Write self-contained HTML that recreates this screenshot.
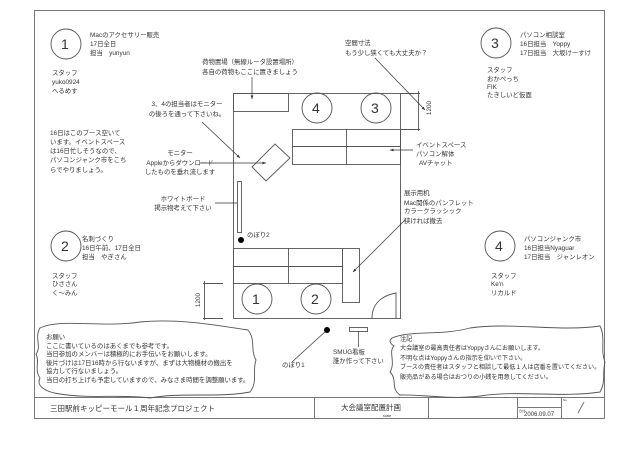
<!DOCTYPE html>
<html><head><meta charset="utf-8"><style>
body{margin:0;background:#fff}
svg text{font-family:"Liberation Sans","Noto Sans CJK JP",sans-serif;font-size:6.4px;fill:#333}
</style></head><body>
<svg width="640" height="447" viewBox="0 0 640 447" xmlns="http://www.w3.org/2000/svg">
<defs><marker id="a" markerWidth="6" markerHeight="6" refX="5" refY="3" orient="auto"><path d="M0,1 L5,3 L0,5z" fill="#333"/></marker></defs>
<g fill="none" stroke="#777" stroke-width="1">
<rect x="34.5" y="10.5" width="570" height="408"/>
<line x1="34" y1="397.5" x2="604" y2="397.5"/>
<line x1="314.5" y1="397" x2="314.5" y2="418"/>
<line x1="428.5" y1="397" x2="428.5" y2="418"/>
<line x1="517.5" y1="397" x2="517.5" y2="418"/>
<line x1="561.5" y1="397" x2="561.5" y2="418"/>
<line x1="517" y1="407.5" x2="561" y2="407.5"/>
<line x1="578" y1="413" x2="584" y2="402"/>
</g>
<g fill="none" stroke="#555" stroke-width="0.9">
<circle cx="66" cy="44" r="15"/><circle cx="66" cy="246" r="15"/>
<circle cx="496" cy="43" r="15"/><circle cx="500" cy="246" r="15"/>
<rect x="233.5" y="93.5" width="167" height="225"/>
<rect x="233.5" y="93.5" width="55" height="18"/>
<circle cx="317" cy="108" r="15"/><circle cx="376" cy="108" r="15"/>
<rect x="292.5" y="129.5" width="108" height="35"/>
<line x1="346.5" y1="129" x2="346.5" y2="164"/><line x1="292" y1="146.5" x2="400" y2="146.5"/>
<polygon points="252,167 275,144 290,158 266,181"/>
<rect x="237.5" y="181.5" width="4" height="51"/>
<rect x="233.5" y="248.5" width="109" height="35"/>
<line x1="288.5" y1="248" x2="288.5" y2="283"/><line x1="233" y1="266.5" x2="342" y2="266.5"/>
<rect x="342.5" y="248.5" width="17" height="54"/>
<circle cx="257" cy="299" r="15"/><circle cx="316" cy="299" r="15"/>
<path d="M372,318 C372,305 380,296 396,293 L396,318"/>
<line x1="400" y1="93.5" x2="420" y2="93.5"/><line x1="400" y1="129.5" x2="420" y2="129.5"/><line x1="418.5" y1="91" x2="418.5" y2="131"/>
<line x1="203" y1="283.5" x2="223" y2="283.5"/><line x1="203" y1="318.5" x2="223" y2="318.5"/><line x1="204.5" y1="281" x2="204.5" y2="320"/>
<rect x="349.5" y="327.5" width="18" height="4"/>
<path d="M40,328 C60,318 100,328 140,322 C180,318 220,326 248,330 C256,340 250,350 256,360 C252,372 258,382 250,392 C220,398 180,392 150,398 C120,394 90,399 60,394 C45,392 36,386 40,378 C34,370 40,362 36,354 C42,346 34,338 40,328Z"/>
<path d="M392,338 C410,330 440,336 470,328 C510,322 560,332 600,326 C606,338 600,350 605,362 C602,374 606,382 600,392 C560,398 520,390 480,396 C450,400 420,394 400,395 C390,388 398,380 390,372 C396,362 388,352 394,346 C388,342 390,340 392,338Z"/>
</g>
<g stroke="#333" stroke-width="0.7" fill="none">
<line x1="252" y1="77" x2="252" y2="99" marker-end="url(#a)"/>
<line x1="202" y1="122" x2="240" y2="158" marker-end="url(#a)"/>
<line x1="200" y1="163" x2="266" y2="163" marker-end="url(#a)"/>
<line x1="215" y1="203" x2="237" y2="203"/>
<line x1="375" y1="58" x2="425" y2="110" marker-end="url(#a)"/>
<line x1="413" y1="150" x2="390" y2="150" marker-end="url(#a)"/>
<line x1="405" y1="220" x2="353" y2="272" marker-end="url(#a)"/>
<line x1="292" y1="362" x2="327" y2="330"/>
<line x1="358.5" y1="331" x2="358.5" y2="347"/>
</g>
<circle cx="241" cy="240" r="3" fill="#000"/><circle cx="327" cy="330" r="3" fill="#000"/>
<g>
<text x="61" y="49" style="font-size:14px">1</text><text x="61" y="251" style="font-size:14px">2</text>
<text x="491" y="48" style="font-size:14px">3</text><text x="495" y="251" style="font-size:14px">4</text>
<text x="312" y="113" style="font-size:14px">4</text><text x="371" y="113" style="font-size:14px">3</text>
<text x="252" y="304" style="font-size:14px">1</text><text x="311" y="304" style="font-size:14px">2</text>
</g>
<text x="90" y="37">Macのアクセサリー販売</text><text x="90" y="46">17日全日</text><text x="90" y="55">担当　yunyun</text>
<text x="52" y="75">スタッフ</text><text x="52" y="84">yuko0924</text><text x="52" y="93">へるめす</text>
<text x="50" y="135">16日はこのブース空いて</text><text x="50" y="144">います。イベントスペース</text><text x="50" y="153">は16日忙しそうなので、</text><text x="50" y="162">パソコンジャンク市をこち</text><text x="50" y="172">らでやりましょう。</text>
<text x="250" y="64" text-anchor="middle">荷物置場（無線ルータ設置場所）</text><text x="250" y="74" text-anchor="middle">各自の荷物もここに置きましょう</text>
<text x="187" y="106" text-anchor="middle">3、4の担当者はモニター</text><text x="187" y="116" text-anchor="middle">の後ろを通って下さいね。</text>
<text x="180" y="155" text-anchor="middle">モニター</text><text x="180" y="165" text-anchor="middle">Appleからダウンロード</text><text x="180" y="174" text-anchor="middle">したものを垂れ流します</text>
<text x="183" y="201" text-anchor="middle">ホワイトボード</text><text x="183" y="210" text-anchor="middle">掲示物考えて下さい</text>
<text x="247" y="237">のぼり2</text>
<text x="82" y="241">名刺づくり</text><text x="82" y="250">16日午前、17日全日</text><text x="82" y="259">担当　やぎさん</text>
<text x="52" y="278">スタッフ</text><text x="52" y="286">ひささん</text><text x="52" y="295">く～みん</text>
<text transform="translate(431,108) rotate(-90)" text-anchor="middle">1200</text>
<text transform="translate(200,300) rotate(-90)" text-anchor="middle">1200</text>
<text x="46" y="339">お願い</text><text x="46" y="348">ここに書いているのはあくまでも参考です。</text><text x="46" y="356">当日参加のメンバーは積極的にお手伝いをお願いします。</text><text x="46" y="365">後片づけは17日16時から行ないますが、まずは大物機材の搬出を</text><text x="46" y="373">協力して行ないましょう。</text><text x="46" y="382">当日の打ち上げも予定していますので、みなさま時間を調整願います。</text>
<text x="282" y="367">のぼり1</text>
<text x="345" y="45">空間寸法</text><text x="345" y="55">もう少し狭くても大丈夫か？</text>
<text x="520" y="37">パソコン相談室</text><text x="520" y="46">16日担当　Yoppy</text><text x="520" y="55">17日担当　大坂けーすけ</text>
<text x="487" y="72">スタッフ</text><text x="487" y="81">おかぺっち</text><text x="487" y="89">FIK</text><text x="487" y="97">たきしいど仮面</text>
<text x="416" y="147">イベントスペース</text><text x="416" y="156">パソコン解体</text><text x="419" y="165">AVチャット</text>
<text x="404" y="195">展示用机</text><text x="404" y="205">Mac関係のパンフレット</text><text x="404" y="213">カラークラッシック</text><text x="404" y="223">狭ければ撤去</text>
<text x="524" y="241">パソコンジャンク市</text><text x="524" y="250">16日担当Nyaguar</text><text x="524" y="259">17日担当　ジャンレオン</text>
<text x="491" y="278">スタッフ</text><text x="491" y="286">Ke'n</text><text x="491" y="295">リカルド</text>
<text x="333" y="354">SMUG看板</text><text x="333" y="363">誰か作って下さい</text>
<g style="font-size:6.1px">
<text x="400" y="341" style="font-size:6.1px">注記</text><text x="400" y="350" style="font-size:6.1px">大会議室の最高責任者はYoppyさんにお願いします。</text><text x="400" y="360" style="font-size:6.1px">不明な点はYoppyさんの指示を仰いで下さい。</text><text x="400" y="369" style="font-size:6.1px">ブースの責任者はスタッフと相談して最低１人は店番を置いてください。</text><text x="400" y="379" style="font-size:6.1px">販売品がある場合はおつりの小銭を用意してください。</text>
</g>
<text x="50" y="411" style="font-size:7.5px">三田駅前キッピーモール１周年記念プロジェクト</text>
<text x="371" y="410" text-anchor="middle" style="font-size:7.5px">大会議室配置計画</text><text x="383" y="417" style="font-size:3.5px">scale</text>
<text x="524" y="416" style="font-size:6px">2006.09.07</text><text x="519" y="412" style="font-size:3px">日付</text><text x="563" y="401" style="font-size:3px">No</text>
</svg>
</body></html>
